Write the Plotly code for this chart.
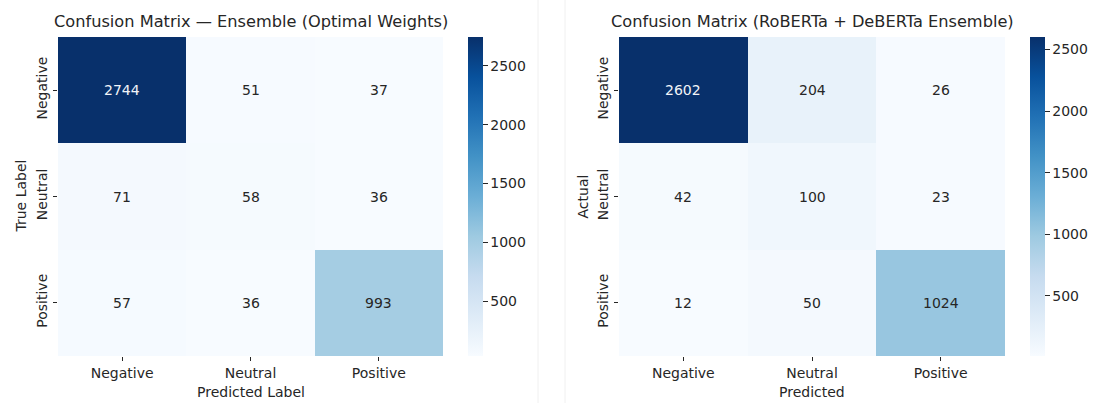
import plotly.graph_objects as go

# Class labels and confusion-matrix counts
labels = ["Negative", "Neutral", "Positive"]

cm_optimal = [
    [2744, 51, 37],
    [71, 58, 36],
    [57, 36, 993],
]

cm_rob_deb = [
    [2602, 204, 26],
    [42, 100, 23],
    [12, 50, 1024],
]

titles = [
    "Confusion Matrix — Ensemble (Optimal Weights)",
    "Confusion Matrix (RoBERTa + DeBERTa Ensemble)",
]
x_titles = ["Predicted Label", "Predicted"]
y_titles = ["True Label", "Actual"]
cbar_ticks = [500, 1000, 1500, 2000, 2500]

# matplotlib "Blues" colormap stops
blues = ["#f7fbff", "#deebf7", "#c6dbef", "#9ecae1", "#6baed6",
         "#4292c6", "#2171b5", "#08519c", "#08306b"]
colorscale = [[i / (len(blues) - 1), c] for i, c in enumerate(blues)]

W, H = 1097, 403
FONT = "DejaVu Sans"
DARK = "#262626"

# panel geometry in pixels
panels = [
    dict(x0=58, x1=443, cb=468, ylab=20),
    dict(x0=619, x1=1005, cb=1030, ylab=582),
]
top_px, bot_px = 37, 356

fig = go.Figure()
annotations = []

for k, (cm, p) in enumerate(zip([cm_optimal, cm_rob_deb], panels)):
    zmin = min(min(r) for r in cm)
    zmax = max(max(r) for r in cm)
    xa = "x" if k == 0 else "x2"
    ya = "y" if k == 0 else "y2"
    fig.add_trace(go.Heatmap(
        z=cm, x=labels, y=labels,
        colorscale=colorscale, zmin=zmin, zmax=zmax,
        xaxis=xa, yaxis=ya, xgap=0, ygap=0,
        hoverinfo="skip",
        colorbar=dict(
            x=p["cb"] / W, xanchor="left", xref="paper",
            y=1 - top_px / H, yanchor="top", yref="paper",
            len=(bot_px - top_px) / H, lenmode="fraction",
            thickness=15, thicknessmode="pixels",
            xpad=0, ypad=0,
            outlinewidth=0,
            tickvals=cbar_ticks,
            ticks="outside", ticklen=5, tickwidth=1, tickcolor=DARK,
            tickfont=dict(family=FONT, size=14, color=DARK),
        ),
    ))
    # cell value labels
    for i, row in enumerate(cm):
        for j, v in enumerate(row):
            frac = (v - zmin) / (zmax - zmin)
            annotations.append(dict(
                x=labels[j], y=labels[i], xref=xa, yref=ya,
                text=str(v), showarrow=False,
                font=dict(family=FONT, size=14,
                          color="#f2f4f8" if frac > 0.6 else DARK),
            ))
    # panel title
    annotations.append(dict(
        x=(p["x0"] + p["x1"]) / 2 / W, y=1 - 22 / H,
        xref="paper", yref="paper", xanchor="center", yanchor="middle",
        text=titles[k], showarrow=False,
        font=dict(family=FONT, size=16.2, color=DARK),
    ))
    # axis titles
    annotations.append(dict(
        x=(p["x0"] + p["x1"]) / 2 / W, y=1 - 392 / H,
        xref="paper", yref="paper", xanchor="center", yanchor="middle",
        text=x_titles[k], showarrow=False,
        font=dict(family=FONT, size=14, color=DARK),
    ))
    annotations.append(dict(
        x=p["ylab"] / W, y=1 - (top_px + bot_px) / 2 / H,
        xref="paper", yref="paper", xanchor="center", yanchor="middle",
        text=y_titles[k], showarrow=False, textangle=-90,
        font=dict(family=FONT, size=14, color=DARK),
    ))

axis_common = dict(
    showgrid=False, zeroline=False, showline=False,
    ticks="outside", ticklen=4, tickwidth=1, tickcolor=DARK,
    tickfont=dict(family=FONT, size=14, color=DARK),
    automargin=False,
)

layout_axes = {}
for k, p in enumerate(panels):
    sx = "" if k == 0 else "2"
    layout_axes["xaxis" + sx] = dict(
        axis_common,
        domain=[p["x0"] / W, p["x1"] / W],
        anchor="y" + sx,
        categoryorder="array", categoryarray=labels,
    )
    layout_axes["yaxis" + sx] = dict(
        axis_common,
        domain=[1 - bot_px / H, 1 - top_px / H],
        anchor="x" + sx,
        tickangle=-90,
        autorange="reversed",
        categoryorder="array", categoryarray=labels,
    )

# faint seams between the two panels
shapes = [
    dict(type="line", xref="paper", yref="paper",
         x0=538 / W, x1=538 / W, y0=0, y1=1,
         line=dict(color="#f0f0f0", width=1)),
    dict(type="line", xref="paper", yref="paper",
         x0=565 / W, x1=565 / W, y0=0, y1=1,
         line=dict(color="#f0f0f0", width=1)),
]

fig.update_layout(
    width=W, height=H,
    margin=dict(l=0, r=0, t=0, b=0),
    paper_bgcolor="white", plot_bgcolor="white",
    font=dict(family=FONT, size=14, color=DARK),
    annotations=annotations,
    shapes=shapes,
    showlegend=False,
    **layout_axes,
)

fig.write_html("out.html")
